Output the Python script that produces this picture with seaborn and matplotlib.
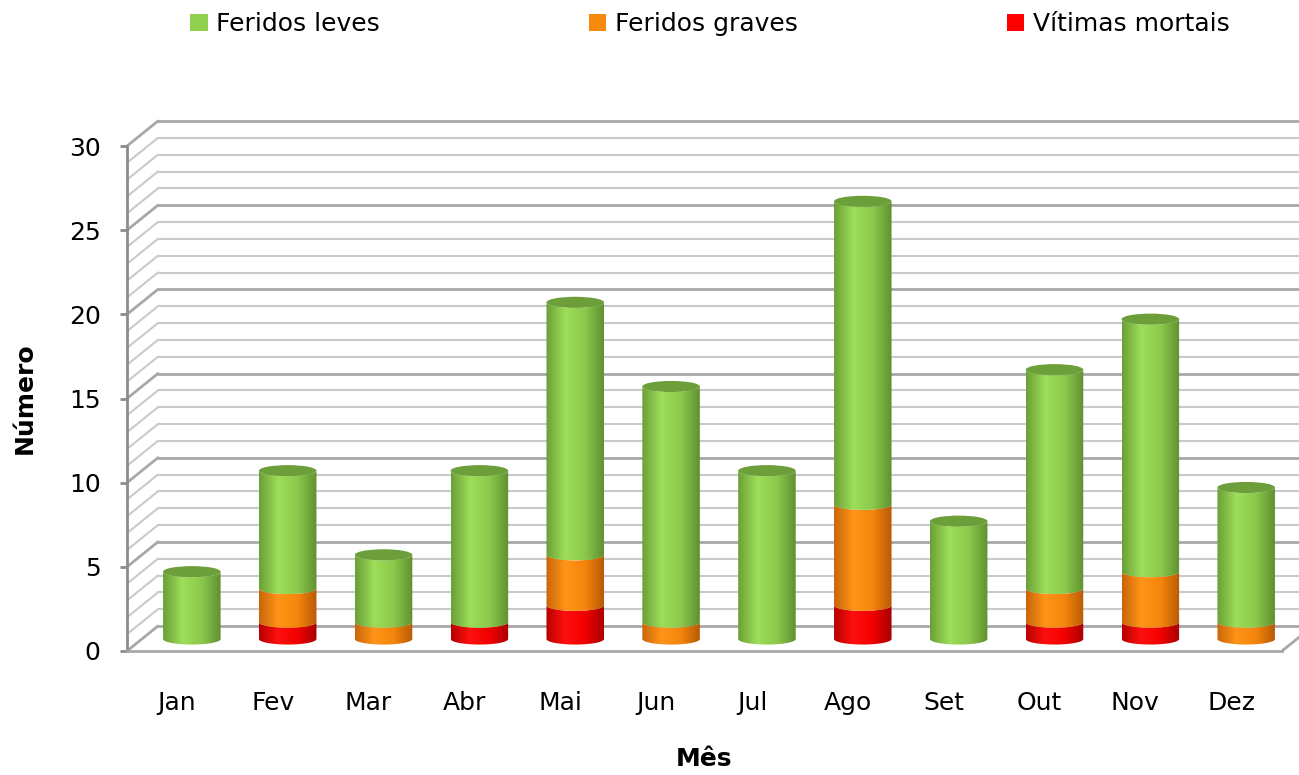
import numpy as np
import pandas as pd
import seaborn as sns
import matplotlib.pyplot as plt
from matplotlib.path import Path
from matplotlib.patches import PathPatch, Ellipse, Patch
from matplotlib.lines import Line2D
from matplotlib.colors import LinearSegmentedColormap
from matplotlib.transforms import ScaledTranslation, IdentityTransform

months = ['Jan', 'Fev', 'Mar', 'Abr', 'Mai', 'Jun', 'Jul', 'Ago', 'Set', 'Out', 'Nov', 'Dez']
vitimas_mortais = [0, 1, 0, 1, 2, 0, 0, 2, 0, 1, 1, 0]
feridos_graves = [0, 2, 1, 0, 3, 1, 0, 6, 0, 2, 3, 1]
feridos_leves = [4, 7, 4, 9, 15, 14, 10, 18, 7, 13, 15, 8]
series_names = ['Feridos leves', 'Feridos graves', 'Vítimas mortais']

legend_colors = ['#92d050', '#f7890f', '#ff0000']
# dark edge, light highlight, dark edge (cylinder shading)
shades = [['#6a9f37', '#9ede58', '#8cc94c', '#5f9130'],
          ['#c8650a', '#ff9418', '#f5850c', '#b85a06'],
          ['#b80000', '#ff1010', '#f20000', '#a80000']]
cap_color = '#6c9e3a'

df = pd.DataFrame({'Mês': months, 'mortais': vitimas_mortais,
                   'graves': feridos_graves, 'leves': feridos_leves})
df['c_red'] = df['mortais']
df['c_orange'] = df['mortais'] + df['graves']
df['c_green'] = df['c_orange'] + df['leves']

sns.set_style('white')
plt.rcParams['font.family'] = ['DejaVu Sans']
plt.rcParams['text.color'] = 'black'
plt.rcParams['xtick.color'] = 'black'
plt.rcParams['ytick.color'] = 'black'
plt.rcParams['axes.labelcolor'] = 'black'

W, H = 1299, 775
fig = plt.figure(figsize=(W / 100, H / 100), dpi=100)
ax = fig.add_axes([127 / W, (H - 651) / H, 1155 / W, 505 / H])
ax.set_zorder(1)

# stacked bars drawn as overlapping cumulative bars
for col, c in zip(['c_green', 'c_orange', 'c_red'], legend_colors):
    sns.barplot(data=df, x='Mês', y=col, color=c, width=0.6, linewidth=0, ax=ax,
                errorbar=None)

ax.set_xlim(-0.52, 11.53)
ax.set_ylim(0, 30)
fig.canvas.draw()

# 3D offsets in pixels
back_dx, back_dy = 31, 25
bar_off = ScaledTranslation(15 / 100, 12 / 100, fig.dpi_scale_trans)
bar_trans = ax.transData + bar_off

# back wall + left wall grid (behind the axes)
x0 = ax.get_xlim()[0]
x1 = ax.get_xlim()[1]
for v in range(0, 31):
    major = v % 5 == 0
    col = '#a8a8a8' if major else '#cacaca'
    lw = 2.0 if major else 1.5
    p = ax.transData.transform((x0, v))
    fig.add_artist(Line2D([p[0], p[0] + back_dx], [p[1], p[1] + back_dy],
                          transform=IdentityTransform(), color=col, lw=lw, zorder=-1))
    fig.add_artist(Line2D([p[0] + back_dx, W + 5], [p[1] + back_dy, p[1] + back_dy],
                          transform=IdentityTransform(), color=col, lw=lw, zorder=-1))
# floor right edge
pr = ax.transData.transform((x1, 0))
fig.add_artist(Line2D([pr[0], pr[0] + back_dx], [pr[1], pr[1] + back_dy],
                      transform=IdentityTransform(), color='#a8a8a8', lw=2.0, zorder=-1))

# cylinders
bars = list(ax.patches)
n = len(months)
layers = [bars[0:n], bars[n:2 * n], bars[2 * n:3 * n]]  # green, orange, red
b = 0.33  # half height of ellipse in data units


def segment_path(xl, xr, y0, y1, b):
    cx, a = (xl + xr) / 2, (xr - xl) / 2
    t = np.linspace(np.pi, 2 * np.pi, 40)
    bottom = np.column_stack([cx + a * np.cos(t), y0 + b * np.sin(t)])
    top = np.column_stack([cx + a * np.cos(t[::-1]), y1 + b * np.sin(t[::-1])])
    verts = np.vstack([bottom, top, bottom[:1]])
    codes = [Path.MOVETO] + [Path.LINETO] * (len(verts) - 2) + [Path.CLOSEPOLY]
    return Path(verts, codes)


cmaps = [LinearSegmentedColormap.from_list('s%d' % i, s) for i, s in enumerate(shades)]
grad = np.linspace(0, 1, 256)[None, :]

for p in bars:
    p.set_visible(False)

for i in range(n):
    g, o, r = layers[0][i], layers[1][i], layers[2][i]
    xl, w = g.get_x(), g.get_width()
    tops = [r.get_height(), o.get_height(), g.get_height()]
    bounds = [0] + tops
    # segments: red 0..tops[0], orange tops[0]..tops[1], green tops[1]..tops[2]
    for k, (cm, lo, hi) in enumerate(zip([cmaps[2], cmaps[1], cmaps[0]], bounds[:-1], bounds[1:])):
        if hi - lo <= 0:
            continue
        path = segment_path(xl, xl + w, lo, hi, b)
        pp = PathPatch(path, transform=bar_trans, facecolor='none', edgecolor='none')
        ax.add_patch(pp)
        im = ax.imshow(grad, cmap=cm, extent=(xl, xl + w, lo - b, hi), aspect='auto',
                       zorder=3 + k * 0.1, interpolation='bilinear')
        im.set_transform(bar_trans)
        im.set_clip_path(pp)
    cap = Ellipse((xl + w / 2, tops[2]), w, 2 * b, transform=bar_trans,
                  facecolor=cap_color, edgecolor='none', zorder=3.5)
    ax.add_patch(cap)

ax.set_xlim(x0, x1)
ax.set_ylim(0, 30)

# axes styling
for s in ['top', 'right']:
    ax.spines[s].set_visible(False)
ax.spines['left'].set_color('#8c8c8c')
ax.spines['left'].set_linewidth(2)
ax.spines['bottom'].set_color('#a8a8a8')
ax.spines['bottom'].set_linewidth(2)
ax.set_yticks(range(0, 31, 5))
ax.tick_params(axis='y', direction='out', length=5, width=2, color='#8c8c8c',
               pad=14, labelsize=18, left=True, labelcolor='black')
ax.tick_params(axis='x', length=0, pad=29, labelsize=18, labelcolor='black')
ax.patch.set_visible(False)

ax.set_ylabel('Número', fontsize=18, fontweight='bold')
ax.set_xlabel('Mês', fontsize=18, fontweight='bold')
ax.yaxis.set_label_coords((37 - 127) / 1155, 0.5)
ax.xaxis.set_label_coords(0.5, (651 - 747) / 505)

handles = [Patch(facecolor=c, edgecolor='none') for c in legend_colors]
fig.legend(handles, series_names, loc='center left', bbox_to_anchor=(190 / W, 1 - 24 / H),
           ncol=3, frameon=False, fontsize=18, handlelength=0.7, handleheight=0.7,
           handletextpad=0.35, columnspacing=8.35, borderpad=0, borderaxespad=0)

fig.savefig('out.png', dpi=100)
